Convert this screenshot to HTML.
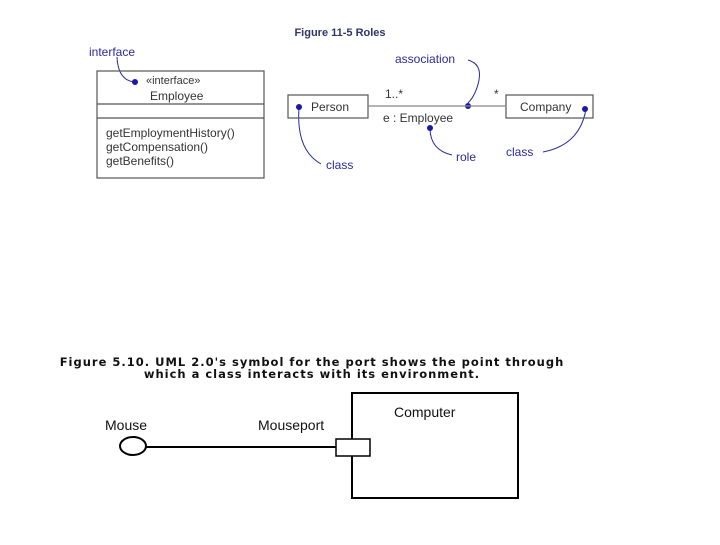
<!DOCTYPE html>
<html><head><style>body{margin:0;background:#fff;width:720px;height:540px;overflow:hidden}</style></head><body>
<svg width="720" height="540" xmlns="http://www.w3.org/2000/svg" font-family="Liberation Sans, sans-serif">
<text x="340" y="36" font-size="11" font-weight="bold" fill="#333366" text-anchor="middle">Figure 11-5 Roles</text>
<g fill="#2a2a99" font-size="12">
<text x="89" y="56">interface</text>
<text x="395" y="63">association</text>
<text x="326" y="169">class</text>
<text x="456" y="161">role</text>
<text x="506" y="156">class</text>
</g>
<g fill="none" stroke="#2a2a99" stroke-width="1">
<path d="M117 57 Q118 80 134 82"/>
<path d="M468 60 Q482 64 479 80 Q476 95 468 103"/>
<path d="M299 108 Q296 150 321 164"/>
<path d="M430 128 Q430 150 452 155"/>
<path d="M543 152 Q580 145 586 109"/>
</g>
<g fill="#1a1aaa">
<circle cx="135" cy="82" r="3"/><circle cx="299" cy="107" r="3"/><circle cx="468" cy="106" r="3"/>
<circle cx="430" cy="128" r="3"/><circle cx="585" cy="109" r="3"/>
</g>
<g fill="none" stroke="#555" stroke-width="1.2">
<rect x="97" y="71" width="167" height="107"/>
<line x1="97" y1="104" x2="264" y2="104"/><line x1="97" y1="118" x2="264" y2="118"/>
<rect x="288" y="95" width="80" height="23"/>
<rect x="506" y="95" width="87" height="23"/>
<line x1="368" y1="106" x2="506" y2="106" stroke="#888"/>
</g>
<g fill="#333" font-size="12">
<text x="146" y="84" font-size="11">«interface»</text>
<text x="150" y="100">Employee</text>
<text x="106" y="137">getEmploymentHistory()</text>
<text x="106" y="151">getCompensation()</text>
<text x="106" y="165">getBenefits()</text>
<text x="311" y="111">Person</text>
<text x="520" y="111">Company</text>
<text x="385" y="98">1..*</text>
<text x="494" y="98">*</text>
<text x="383" y="122">e : Employee</text>
</g>
<g font-family="DejaVu Sans, sans-serif" font-weight="bold" font-size="11.5" letter-spacing="1" fill="#111" text-anchor="middle">
<text x="312" y="366">Figure 5.10. UML 2.0's symbol for the port shows the point through</text>
<text x="312" y="378">which a class interacts with its environment.</text>
</g>
<g fill="none" stroke="#000" stroke-width="2">
<rect x="352" y="393" width="166" height="105"/>
<ellipse cx="133" cy="446" rx="13" ry="9"/>
<line x1="146" y1="447" x2="336" y2="447"/>
</g>
<rect x="336" y="439" width="34" height="17" fill="#fff" stroke="#000" stroke-width="1.5"/>
<g font-size="14" fill="#111">
<text x="105" y="430">Mouse</text>
<text x="258" y="430">Mouseport</text>
<text x="394" y="417">Computer</text>
</g>
</svg>
</body></html>
